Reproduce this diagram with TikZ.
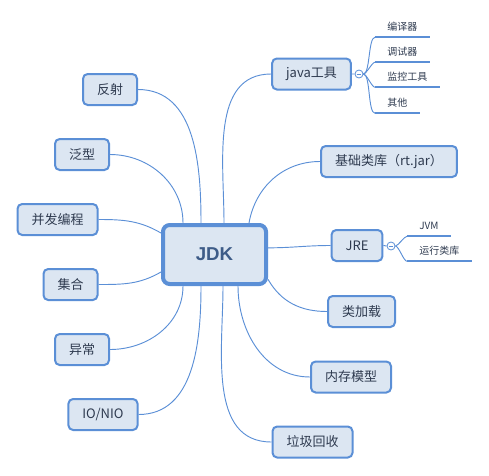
\documentclass[tikz,border=0pt]{standalone}
\usepackage{fontspec}
\setmainfont{Noto Sans CJK SC}
\newfontfamily\latb{Liberation Sans}
\usetikzlibrary{backgrounds}
\definecolor{lineblue}{HTML}{5B8FD6}
\definecolor{boxfill}{HTML}{DCE6F2}
\definecolor{txt}{HTML}{2E3A4F}
\definecolor{jdktxt}{HTML}{3E5C88}
\tikzset{
  topic/.style={draw=lineblue, line width=1.5pt, fill=boxfill, rounded corners=3.5pt,
    minimum height=23.25pt, inner xsep=10.5pt, inner ysep=0pt, text=txt,
    font=\fontsize{9.75}{11}\selectfont},
  root/.style={draw=lineblue, line width=3pt, fill=boxfill, rounded corners=5pt,
    minimum width=77.25pt, minimum height=44.25pt, text=jdktxt,
    font=\latb\bfseries\fontsize{14}{16}\selectfont},
  leaf/.style={anchor=west, text=txt, font=\fontsize{7.5}{9}\selectfont,
    minimum height=15pt, inner xsep=9pt, inner ysep=0pt},
  fold/.style={circle, draw=lineblue, fill=white, line width=0.6pt, minimum size=6pt,
    inner sep=0pt, path picture={\draw[lineblue, line width=0.6pt]
      ([xshift=-1.8pt]path picture bounding box.center) --
      ([xshift=1.8pt]path picture bounding box.center);}},
  branch/.style={draw=lineblue, line width=0.7pt},
  uline/.style={draw=lineblue, line width=1.6pt}
}
\begin{document}
\begin{tikzpicture}[x=0.75pt,y=0.75pt]
\useasboundingbox (0,0) rectangle (489,-475);

\node[root] (jdk) at (214.5,-254.5) {JDK};

% left side
\node[topic] (fs) at (110,-89.5) {反射};
\node[topic] (fx) at (82,-154.5) {泛型};
\node[topic] (bf) at (57.5,-219.5) {并发编程};
\node[topic] (jh) at (70.5,-284.5) {集合};
\node[topic] (yc) at (82,-349.5) {异常};
\node[topic] (io) at (103,-414.5) {IO/NIO};

% right side
\node[topic] (gj) at (311.5,-74) {java工具};
\node[topic] (lk) at (389,-161.5) {基础类库（rt.jar）};
\node[topic] (jre) at (357,-245.5) {JRE};
\node[topic] (jz) at (361.5,-311.5) {类加载};
\node[topic] (nc) at (351,-377) {内存模型};
\node[topic] (lj) at (312.5,-442) {垃圾回收};

% java tools
\node[fold] (f1) at (359,-74) {};
\node[leaf] (g1) at (375,-27) {编译器};
\node[leaf] (g2) at (375,-52) {调试器};
\node[leaf] (g3) at (375,-77) {监控工具};
\node[leaf] (g4) at (375,-103) {其他};

% jre
\node[fold] (f2) at (391,-246) {};
\node[leaf] (r1) at (407,-226) {JVM};
\node[leaf] (r2) at (407,-251) {运行类库};

\begin{pgfonlayer}{background}
\draw [branch] (fs.east) to[out=0,in=90] ([xshift=30pt]jdk.north west)
  (fx.east) to[out=0,in=90] ([xshift=16.5pt]jdk.north west)
  (bf.east) to[out=0,in=150] ([yshift=-7.5pt]jdk.north west)
  (jh.east) to[out=0,in=210] ([yshift=10.5pt]jdk.south west)
  (yc.east) to[out=0,in=-90] ([xshift=16.5pt]jdk.south west)
  (io.east) to[out=0,in=-90] ([xshift=30pt]jdk.south west);
\draw [branch] (gj.west) to[out=180,in=90] ([xshift=47.25pt]jdk.north west)
  (lk.west) to[out=180,in=80] ([xshift=66pt]jdk.north west)
  (jre.west) to[out=180,in=0] ([yshift=5pt]jdk.east)
  (jz.west) to[out=180,in=-60] ([yshift=5pt]jdk.south east)
  (nc.west) to[out=180,in=-90] ([xshift=57.75pt]jdk.south west)
  (lj.west) to[out=180,in=-90] ([xshift=46.5pt]jdk.south west);
\draw [branch] (gj.east) -- (f1.west) (jre.east) -- (f2.west);
\foreach \n in {g1,g2,g3,g4}
  \draw [branch] (f1.east) to[out=0,in=180,looseness=0.45] (\n.south west);
\foreach \n in {r1,r2}
  \draw [branch] (f2.east) to[out=0,in=180,looseness=0.45] (\n.south west);
\end{pgfonlayer}

\foreach \n in {g1,g2,g3,g4,r1,r2}
  \draw [uline] (\n.south west) -- (\n.south east);
\end{tikzpicture}
\end{document}
